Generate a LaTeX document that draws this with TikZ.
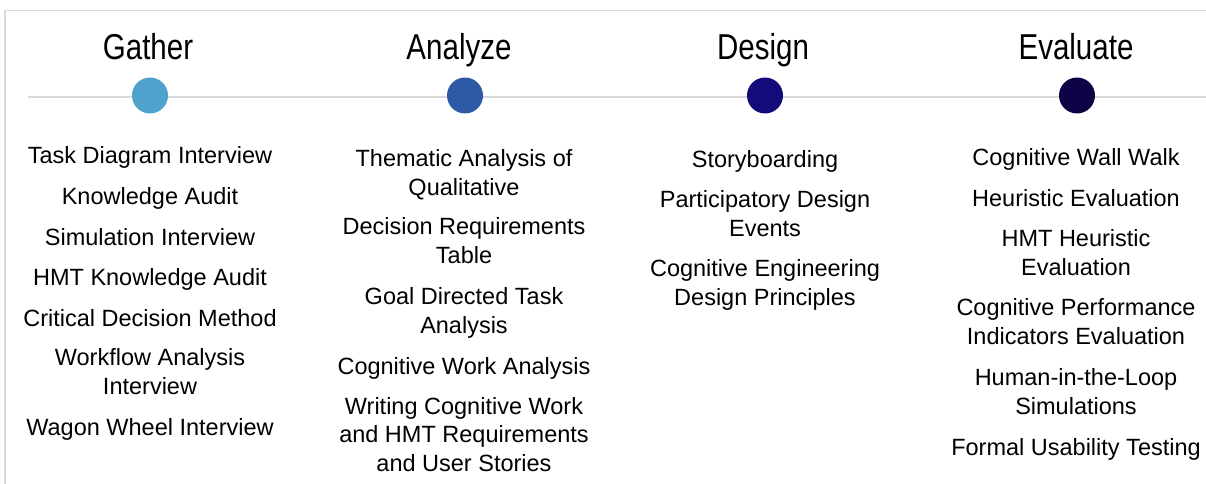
\documentclass[tikz,border=0pt]{standalone}
\usepackage{fontspec}
\setmainfont{Liberation Sans}
\newfontfamily\titlefont[FakeStretch=0.82]{Liberation Sans}
\definecolor{cgather}{HTML}{4EA2CB}
\definecolor{canalyze}{HTML}{2D59A6}
\definecolor{cdesign}{HTML}{140A7A}
\definecolor{cevaluate}{HTML}{0D0447}
\definecolor{rule}{HTML}{D9D9D9}
\begin{document}
\begin{tikzpicture}[x=1pt,y=-1pt,
  title/.style={font=\titlefont\fontsize{36}{40}\selectfont, anchor=base, inner sep=0pt},
  item/.style={font=\fontsize{23.5}{28.5}\selectfont, align=center, anchor=base, inner sep=0pt},
  dot/.style={circle, minimum size=36pt, inner sep=0pt}]
\useasboundingbox (0,0) rectangle (1206,484);
% frame
\draw[rule, line width=1.6pt] (5,484) -- (5,10.5) -- (1206,10.5);
% timeline
\coordinate (lstart) at (28,97);
\coordinate (lend) at (1206,97);
\draw[rule, line width=1.4pt] (lstart) -- (lend);
% titles
\node[title] (tg) at (148,60) {Gather};
\node[title] (ta) at (459,60) {Analyze};
\node[title] (td) at (763,60) {Design};
\node[title] (te) at (1076,60) {Evaluate};
% dots
\node[dot, fill=cgather] (dg) at (150,95.5) {};
\node[dot, fill=canalyze] (da) at (465,95.5) {};
\node[dot, fill=cdesign] (dd) at (765,95.5) {};
\node[dot, fill=cevaluate] (de) at (1077,95.5) {};
% Gather (anchor = baseline of the last line)
\node[item] (g1) at (150,163) {Task Diagram Interview};
\node[item] (g2) at (150,204) {Knowledge Audit};
\node[item] (g3) at (150,245) {Simulation Interview};
\node[item] (g4) at (150,285) {HMT Knowledge Audit};
\node[item] (g5) at (150,326) {Critical Decision Method};
\node[item] (g6) at (150,394) {Workflow Analysis\\Interview};
\node[item] (g7) at (150,435) {Wagon Wheel Interview};
% Analyze
\node[item] (a1) at (464,195) {Thematic Analysis of\\Qualitative};
\node[item] (a2) at (464,263) {Decision Requirements\\Table};
\node[item] (a3) at (464,333) {Goal Directed Task\\Analysis};
\node[item] (a4) at (464,374) {Cognitive Work Analysis};
\node[item] (a5) at (464,471) {Writing Cognitive Work\\and HMT Requirements\\and User Stories};
% Design
\node[item] (d1) at (765,167) {Storyboarding};
\node[item] (d2) at (765,236) {Participatory Design\\Events};
\node[item] (d3) at (765,305) {Cognitive Engineering\\Design Principles};
% Evaluate
\node[item] (e1) at (1076,165) {Cognitive Wall Walk};
\node[item] (e2) at (1076,206) {Heuristic Evaluation};
\node[item] (e3) at (1076,275) {HMT Heuristic\\Evaluation};
\node[item] (e4) at (1076,344) {Cognitive Performance\\Indicators Evaluation};
\node[item] (e5) at (1076,414) {Human-in-the-Loop\\Simulations};
\node[item] (e6) at (1076,455) {Formal Usability Testing};
\end{tikzpicture}
\end{document}
